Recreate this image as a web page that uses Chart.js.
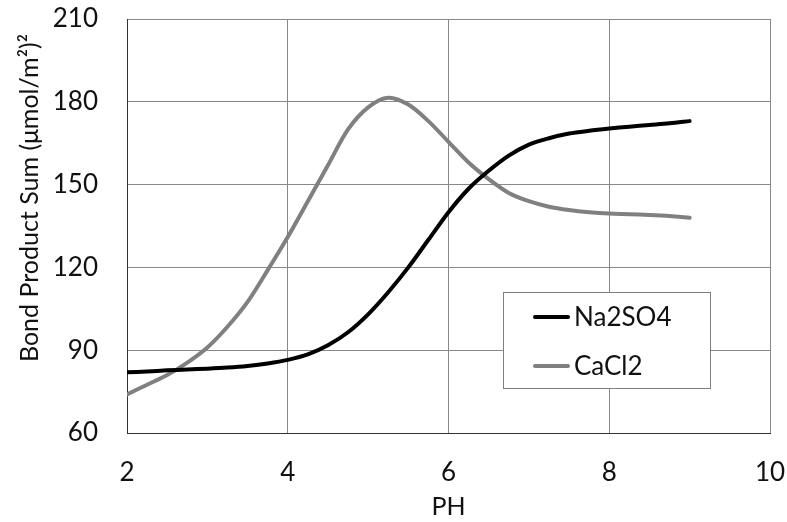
<!DOCTYPE html>
<html>
<head>
<meta charset="utf-8">
<script src="https://cdn.jsdelivr.net/npm/chart.js@4.4.0/dist/chart.umd.min.js"></script>
<style>
  html, body { margin: 0; padding: 0; background: #fff; }
  #wrap { width: 787px; height: 522px; }
</style>
</head>
<body>
<div id="wrap"><canvas id="chart" width="787" height="522"></canvas></div>
<script>
// pH values (x) and bond product sums
const phValues = [2, 2.25, 2.5, 2.75, 3, 3.25, 3.5, 3.75, 4, 4.25, 4.5, 4.75, 5, 5.25, 5.5, 5.75,
  6, 6.25, 6.5, 6.75, 7, 7.25, 7.5, 7.75, 8, 8.25, 8.5, 8.75, 9];
const na2so4 = [82, 82.3, 82.7, 83, 83.3, 83.7, 84.3, 85.2, 86.5, 88.5, 91.8, 96.5, 103, 111, 120, 130,
  140, 148.5, 155, 160.5, 164.5, 166.8, 168.5, 169.5, 170.3, 171, 171.6, 172.2, 173];
const cacl2 = [74, 77.5, 81, 85.5, 91, 98.5, 107.5, 119, 131, 144, 157, 170, 178, 181.5, 179, 173,
  165.5, 158, 152, 147, 144, 142, 140.8, 140, 139.5, 139.3, 139, 138.6, 138];
const seriesNames = ['Na2SO4', 'CaCl2'];
const seriesColors = ['#000000', '#808080'];
const yTitle = 'Bond Product Sum (μmol/m²)²';

const font = "Lato, 'Open Sans', sans-serif";

const toPoints = (ys) => ys.map((y, i) => ({ x: phValues[i], y: y }));

// keep the plot box where the original has it, labels may overhang
const noPad = (scale) => {
  scale.paddingTop = 0;
  scale.paddingBottom = 0;
  scale.paddingLeft = 0;
  scale.paddingRight = 0;
};

// legend box inside the plot + y title sitting a bit above centre, like the original
const extras = {
  id: 'extras',
  afterDraw(chart) {
    const ctx = chart.ctx;
    const left = 503, top = 292, w = 207, h = 96;
    ctx.save();
    ctx.fillStyle = '#fff';
    ctx.fillRect(left, top, w, h);
    ctx.strokeStyle = '#7f7f7f';
    ctx.lineWidth = 1;
    ctx.strokeRect(left + 0.5, top + 0.5, w, h);
    ctx.font = '26px ' + font;
    ctx.textBaseline = 'middle';
    chart.data.datasets.forEach((ds, i) => {
      const y = top + 25 + i * 49;
      ctx.strokeStyle = ds.borderColor;
      ctx.lineWidth = 4;
      ctx.lineCap = 'round';
      ctx.beginPath();
      ctx.moveTo(535, y);
      ctx.lineTo(568, y);
      ctx.stroke();
      ctx.fillStyle = '#111';
      ctx.fillText(ds.label, 574, y + 1);
    });

    ctx.translate(30, 198);
    ctx.rotate(-Math.PI / 2);
    ctx.textAlign = 'center';
    ctx.font = '25px ' + font;
    ctx.fillStyle = '#111';
    ctx.fillText(yTitle, 0, 0);
    ctx.restore();
  }
};

new Chart(document.getElementById('chart'), {
  type: 'line',
  data: {
    datasets: [
      { label: seriesNames[0], data: toPoints(na2so4), borderColor: seriesColors[0] },
      { label: seriesNames[1], data: toPoints(cacl2), borderColor: seriesColors[1] }
    ]
  },
  options: {
    responsive: false,
    animation: false,
    layout: { padding: { top: 19, right: 17, left: 0, bottom: 0 } },
    elements: {
      point: { radius: 0 },
      line: { borderWidth: 4, tension: 0.3, borderCapStyle: 'round', fill: false }
    },
    plugins: { legend: { display: false }, tooltip: { enabled: false } },
    scales: {
      x: {
        type: 'linear', min: 2, max: 10,
        ticks: { stepSize: 2, color: '#111', font: { family: font, size: 26 }, padding: 24 },
        grid: { color: '#888', drawTicks: false },
        border: { color: '#333', width: 1 },
        title: { display: true, text: 'PH', color: '#111', font: { family: font, size: 25 }, padding: 0 },
        afterFit(scale) { scale.height = 89; noPad(scale); }
      },
      y: {
        min: 60, max: 210,
        ticks: { stepSize: 30, color: '#111', font: { family: font, size: 26 }, padding: 29 },
        grid: { color: '#888', drawTicks: false },
        border: { color: '#333', width: 1 },
        afterFit(scale) { scale.width = 127; noPad(scale); }
      }
    }
  },
  plugins: [extras]
});
</script>
</body>
</html>
